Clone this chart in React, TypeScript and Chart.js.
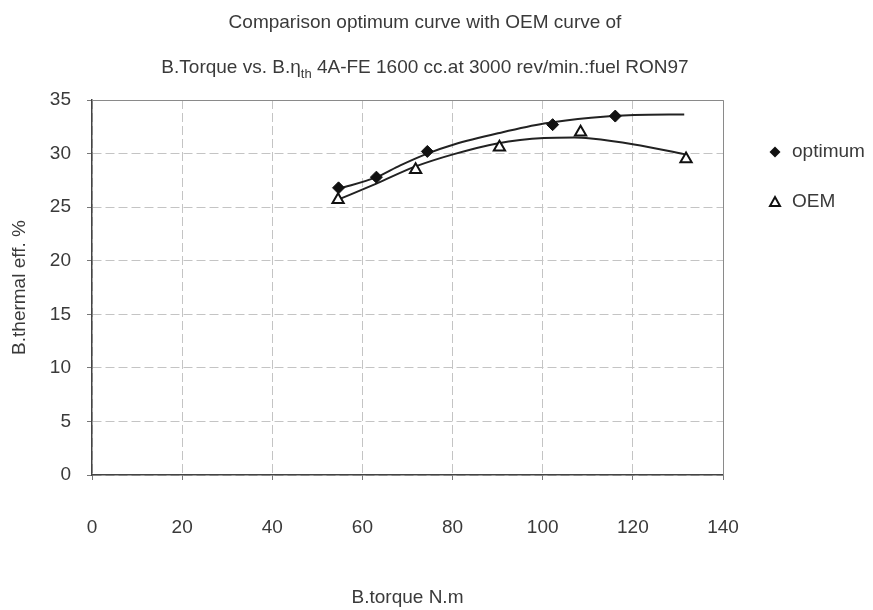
import React, { useEffect, useRef } from "react";
import { Chart, registerables } from "chart.js";

Chart.register(...registerables);

// ---- data ----
const optimumTorque = [54.7, 63.1, 74.4, 102.2, 116.1];
const optimumEff = [26.8, 27.8, 30.2, 32.7, 33.5];
const oemTorque = [54.6, 71.8, 90.4, 108.4, 131.8];
const oemEff = [25.7, 28.5, 30.6, 32.0, 29.5];

// trend curves as traced on the picture
const optimumCurveTorque = [54.7, 63.1, 68.4, 74.4, 80.3, 90.7, 100.3, 110.7, 120.3, 131.4];
const optimumCurveEff = [26.7, 27.8, 28.9, 30.0, 30.85, 31.95, 32.8, 33.35, 33.6, 33.65];
const oemCurveTorque = [54.6, 63.1, 71.8, 80.3, 89.9, 100.3, 107.0, 110.7, 120.3, 131.4];
const oemCurveEff = [25.7, 27.2, 28.8, 29.95, 30.95, 31.45, 31.5, 31.4, 30.85, 29.95];

const xTicks = [0, 20, 40, 60, 80, 100, 120, 140];
const yTicks = [0, 5, 10, 15, 20, 25, 30, 35];

const titleLine1 = "Comparison optimum curve with OEM curve of";
const titleLine2a = "B.Torque vs. B.\u03b7";
const titleLine2sub = "th";
const titleLine2b = " 4A-FE 1600 cc.at 3000 rev/min.:fuel RON97";
const xTitle = "B.torque N.m";
const yTitle = "B.thermal eff. %";
const legendLabels = ["optimum", "OEM"];

const FONT = "'Liberation Sans', Arial, sans-serif";
const TEXT = "#3a3a3a";

const zip = (xs: number[], ys: number[]) => xs.map((x, i) => ({ x, y: ys[i] }));

const decorPlugin = {
  id: "decor",
  afterDraw(chart: any) {
    const { ctx, chartArea } = chart;
    ctx.save();
    // frame top / right
    ctx.strokeStyle = "#8a8a8a";
    ctx.lineWidth = 1;
    ctx.setLineDash([]);
    ctx.beginPath();
    ctx.moveTo(chartArea.left, chartArea.top + 0.5);
    ctx.lineTo(chartArea.right + 0.5, chartArea.top + 0.5);
    ctx.lineTo(chartArea.right + 0.5, chartArea.bottom);
    ctx.stroke();

    // title
    ctx.fillStyle = TEXT;
    ctx.textBaseline = "middle";
    ctx.textAlign = "left";
    const cx = 425;
    ctx.font = `19px ${FONT}`;
    const w1 = ctx.measureText(titleLine1).width;
    ctx.fillText(titleLine1, cx - w1 / 2, 23);
    const wa = ctx.measureText(titleLine2a).width;
    const wb = ctx.measureText(titleLine2b).width;
    ctx.font = `13px ${FONT}`;
    const ws = ctx.measureText(titleLine2sub).width;
    const total = wa + ws + wb;
    let x0 = cx - total / 2;
    const y2 = 68;
    ctx.font = `19px ${FONT}`;
    ctx.fillText(titleLine2a, x0, y2);
    ctx.font = `13px ${FONT}`;
    ctx.fillText(titleLine2sub, x0 + wa, y2 + 6);
    ctx.font = `19px ${FONT}`;
    ctx.fillText(titleLine2b, x0 + wa + ws, y2);

    // legend
    const lx = 775;
    const ly1 = 152;
    const ly2 = 202;
    ctx.fillStyle = "#111";
    ctx.beginPath();
    ctx.moveTo(lx, ly1 - 5.5);
    ctx.lineTo(lx + 5.5, ly1);
    ctx.lineTo(lx, ly1 + 5.5);
    ctx.lineTo(lx - 5.5, ly1);
    ctx.closePath();
    ctx.fill();
    ctx.strokeStyle = "#111";
    ctx.lineWidth = 2;
    ctx.fillStyle = "#fff";
    ctx.beginPath();
    ctx.moveTo(lx, ly2 - 5);
    ctx.lineTo(lx + 5, ly2 + 4);
    ctx.lineTo(lx - 5, ly2 + 4);
    ctx.closePath();
    ctx.fill();
    ctx.stroke();
    ctx.fillStyle = TEXT;
    ctx.font = `19px ${FONT}`;
    ctx.fillText(legendLabels[0], 792, ly1);
    ctx.fillText(legendLabels[1], 792, ly2);
    ctx.restore();
  },
};

export default function App() {
  const ref = useRef<HTMLCanvasElement>(null);
  useEffect(() => {
    if (!ref.current) return;
    const chart = new Chart(ref.current, {
      type: "line",
      data: {
        datasets: [
          {
            label: legendLabels[0],
            data: zip(optimumTorque, optimumEff),
            showLine: false,
            pointStyle: "rectRot",
            pointRadius: 6,
            pointBackgroundColor: "#111",
            pointBorderColor: "#111",
            pointBorderWidth: 1,
          },
          {
            label: legendLabels[1],
            data: zip(oemTorque, oemEff),
            showLine: false,
            pointStyle: "triangle",
            pointRadius: 6.5,
            pointBackgroundColor: "#fff",
            pointBorderColor: "#111",
            pointBorderWidth: 2,
          },
          {
            label: "optimum trend",
            data: zip(optimumCurveTorque, optimumCurveEff),
            borderColor: "#222",
            borderWidth: 2,
            pointRadius: 0,
            cubicInterpolationMode: "monotone",
            fill: false,
          },
          {
            label: "OEM trend",
            data: zip(oemCurveTorque, oemCurveEff),
            borderColor: "#222",
            borderWidth: 2,
            pointRadius: 0,
            cubicInterpolationMode: "monotone",
            fill: false,
          },
        ],
      },
      options: {
        animation: false,
        responsive: false,
        devicePixelRatio: 1,
        layout: { padding: { top: 100, right: 150, bottom: 0, left: 0 } },
        plugins: {
          legend: { display: false },
          title: { display: false },
          tooltip: { enabled: false },
        },
        scales: {
          x: {
            type: "linear",
            min: 0,
            max: 140,
            afterBuildTicks: (s: any) => {
              s.ticks = xTicks.map((v) => ({ value: v }));
            },
            afterFit: (s: any) => {
              s.height = 135;
            },
            ticks: {
              color: TEXT,
              font: { family: FONT, size: 19 },
              padding: 36,
              maxRotation: 0,
            },
            grid: {
              color: "#c4c4c4",
              lineWidth: 1,
              tickLength: 5,
              tickColor: "#777",
            },
            border: { color: "#444", width: 1.5, dash: [9, 4] },
            title: {
              display: true,
              text: xTitle,
              color: TEXT,
              font: { family: FONT, size: 19 },
              padding: { top: 0, bottom: 1 },
            },
          },
          y: {
            type: "linear",
            min: 0,
            max: 35,
            afterBuildTicks: (s: any) => {
              s.ticks = yTicks.map((v) => ({ value: v }));
            },
            afterFit: (s: any) => {
              s.width = 92;
            },
            ticks: {
              color: TEXT,
              font: { family: FONT, size: 19 },
              padding: 16,
            },
            grid: {
              color: "#c4c4c4",
              lineWidth: 1,
              tickLength: 5,
              tickColor: "#777",
            },
            border: { color: "#444", width: 1.5, dash: [9, 4] },
            title: {
              display: true,
              text: yTitle,
              color: TEXT,
              font: { family: FONT, size: 19 },
              padding: { top: 8, bottom: 0 },
            },
          },
        },
      },
      plugins: [decorPlugin],
    } as any);
    return () => chart.destroy();
  }, []);

  return (
    <div style={{ position: "absolute", left: 0, top: 0, width: 873, height: 610, background: "#fff" }}>
      <canvas ref={ref} width={873} height={610} style={{ display: "block" }} />
    </div>
  );
}
